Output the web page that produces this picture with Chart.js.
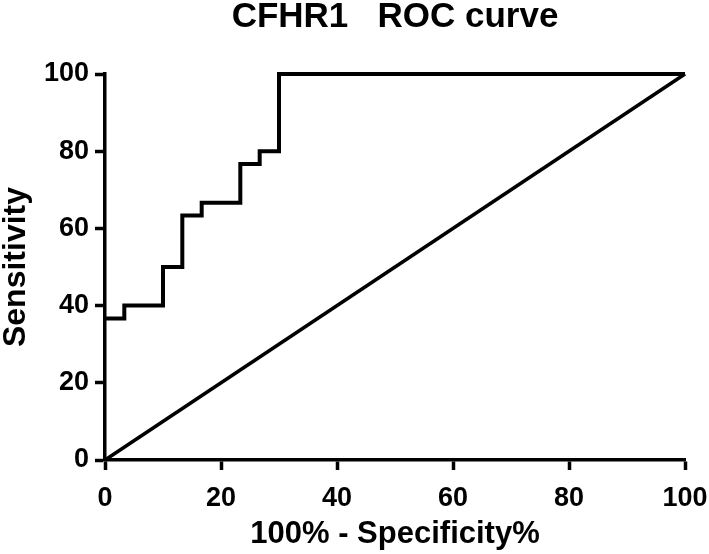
<!DOCTYPE html>
<html>
<head>
<meta charset="utf-8">
<script src="https://cdn.jsdelivr.net/npm/chart.js@4/dist/chart.umd.min.js"></script>
<style>
  body { margin: 0; background: #fff; }
</style>
</head>
<body>
<canvas id="rocChart" width="709" height="554"></canvas>
<script>
// ROC curve points (100% - specificity, sensitivity)
var rocFpr = [0, 3.33, 10, 13.33, 16.67, 23.33, 26.67, 30, 100];
var rocTpr = [36.67, 40, 50, 63.33, 66.67, 76.67, 80, 100, 100];
// reference (chance) line
var refX = [0, 100];
var refY = [0, 100];

var fontFamily = "'Liberation Sans', Arial, sans-serif";

function toPoints(xs, ys) {
    return xs.map(function(x, i) { return { x: x, y: ys[i] }; });
}

document.addEventListener('DOMContentLoaded', function() {
    var ctx = document.getElementById('rocChart').getContext('2d');
    new Chart(ctx, {
        type: 'scatter',
        data: {
            datasets: [{
                label: 'ROC',
                data: toPoints(rocFpr, rocTpr),
                showLine: true,
                stepped: true,
                borderColor: '#000',
                borderWidth: 4,
                pointRadius: 0,
                clip: false
            }, {
                label: 'Reference',
                data: toPoints(refX, refY),
                showLine: true,
                borderColor: '#000',
                borderWidth: 3.5,
                pointRadius: 0,
                clip: false
            }]
        },
        options: {
            responsive: false,
            animation: false,
            layout: {
                padding: { left: 0, right: 24, top: 0, bottom: 0 }
            },
            plugins: {
                legend: { display: false },
                tooltip: { enabled: false },
                title: {
                    display: true,
                    fullSize: false, // center over the plot area
                    text: 'CFHR1   ROC curve',
                    color: '#000',
                    font: { size: 35, family: fontFamily, weight: 'bold', lineHeight: 1 },
                    padding: { top: 0, bottom: 39 }
                }
            },
            scales: {
                x: {
                    type: 'linear',
                    min: 0,
                    max: 100,
                    ticks: {
                        stepSize: 20,
                        color: '#000',
                        padding: 12,
                        font: { size: 27, family: fontFamily, weight: 'bold' }
                    },
                    grid: {
                        drawOnChartArea: false,
                        drawTicks: true,
                        tickLength: 10,
                        tickWidth: 3.5,
                        tickColor: '#000'
                    },
                    border: { display: true, color: '#000', width: 3.5 },
                    title: {
                        display: true,
                        text: '100% - Specificity%',
                        color: '#000',
                        font: { size: 31, family: fontFamily, weight: 'bold', lineHeight: 1 },
                        padding: { top: 0, bottom: 4 }
                    },
                    afterFit: function(scale) {
                        scale.height = 94;
                        scale.paddingLeft = 0;
                        scale.paddingRight = 0;
                    }
                },
                y: {
                    type: 'linear',
                    min: 0,
                    max: 100,
                    ticks: {
                        stepSize: 20,
                        color: '#000',
                        padding: 6,
                        font: { size: 27, family: fontFamily, weight: 'bold' }
                    },
                    grid: {
                        drawOnChartArea: false,
                        drawTicks: true,
                        tickLength: 10,
                        tickWidth: 3.5,
                        tickColor: '#000'
                    },
                    border: { display: true, color: '#000', width: 3.5 },
                    title: {
                        display: true,
                        text: 'Sensitivity',
                        color: '#000',
                        font: { size: 32, family: fontFamily, weight: 'bold', lineHeight: 1 },
                        padding: { top: 0, bottom: 0 }
                    },
                    afterFit: function(scale) {
                        scale.width = 105;
                        scale.paddingTop = 0;
                        scale.paddingBottom = 0;
                    }
                }
            }
        }
    });
});
</script>
</body>
</html>
